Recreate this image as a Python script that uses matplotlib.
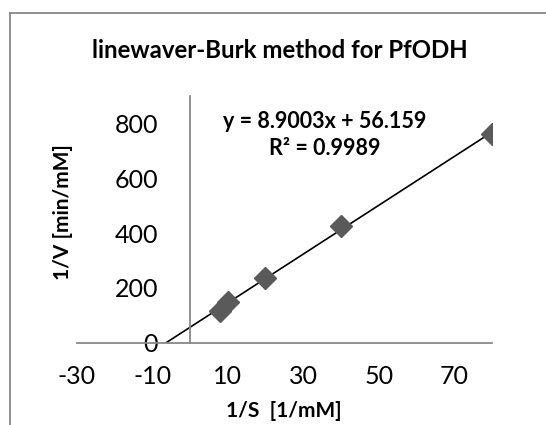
import matplotlib
matplotlib.use("Agg")
import matplotlib.pyplot as plt
from matplotlib.lines import Line2D
import numpy as np

plt.rcParams['font.family'] = ['Lato', 'DejaVu Sans']
plt.rcParams['axes.unicode_minus'] = False

# Data
inv_s = [8, 10, 20, 40, 80]
inv_v = [115, 148, 237, 425, 762]
x_ticks = [-30, -10, 10, 30, 50, 70]
y_ticks = [0, 200, 400, 600, 800]
title = "linewaver-Burk method for PfODH"
xlabel = "1/S  [1/mM]"
ylabel = "1/V [min/mM]"
eq_text = "y = 8.9003x + 56.159\nR² = 0.9989"

W, H = 546, 425
fig = plt.figure(figsize=(W / 100, H / 100), dpi=100)
L, R, T, B = 76.7, 492, 96, 342.7
ax = fig.add_axes([L / W, 1 - B / H, (R - L) / W, (B - T) / H])

slope, intercept = np.polyfit(inv_s, inv_v, 1)
x0 = -intercept / slope
xl = np.array([x0, max(inv_s)])
ax.plot(xl, slope * xl + intercept, color='black', lw=1.2, zorder=2)
ax.plot(inv_s, inv_v, linestyle='none', marker='D', markersize=11,
        color='#5a5a5a', zorder=3)

ax.set_xlim(-30, 80)
ax.set_ylim(0, 900)
ax.set_xticks(x_ticks)
ax.set_yticks(y_ticks)
ax.tick_params(length=0, labelsize=18, colors='black', pad=16)
ax.tick_params(axis='y', pad=23)
for s in ['top', 'right']:
    ax.spines[s].set_visible(False)
ax.spines['left'].set_position(('data', 0))
for s in ['left', 'bottom']:
    ax.spines[s].set_color('#888888')
    ax.spines[s].set_linewidth(1.3)
ax.patch.set_alpha(0)

fig.text(280 / W, 1 - 50 / H, title, ha='center', va='center',
         fontsize=17.3, fontweight='bold')
fig.text(284 / W, 1 - 411 / H, xlabel, ha='center', va='center',
         fontsize=15, fontweight='bold')
fig.text(63 / W, 1 - 212 / H, ylabel, ha='center', va='center',
         rotation=90, fontsize=15, fontweight='bold')
fig.text(325 / W, 1 - 135 / H, eq_text, ha='center', va='center',
         fontsize=15.5, fontweight='bold', linespacing=1.35)

# chart area frame (cropped)
fc = '#888888'
fig.add_artist(Line2D([9.5 / W, 9.5 / W], [0, 1 - 12.7 / H], transform=fig.transFigure,
                      color=fc, lw=1.3))
fig.add_artist(Line2D([9.5 / W, 1], [1 - 12.7 / H, 1 - 12.7 / H], transform=fig.transFigure,
                      color=fc, lw=1.3))

fig.savefig('out.png', dpi=100)
